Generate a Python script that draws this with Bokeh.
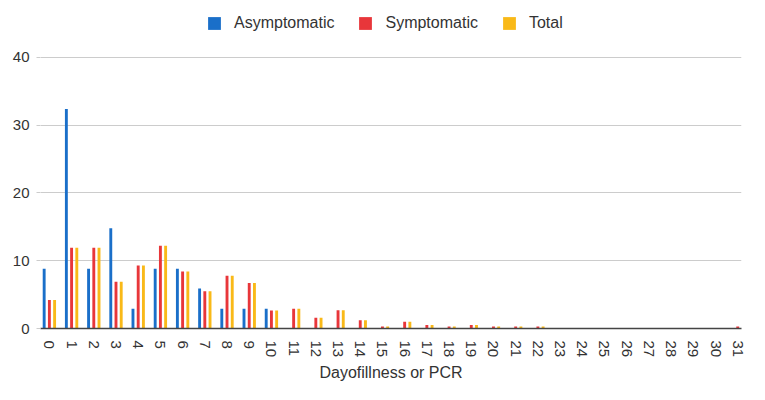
import math
from bokeh.plotting import figure
from bokeh.models import Range1d, FixedTicker, Legend, LegendItem, ColumnDataSource
from bokeh.transform import dodge
from bokeh.embed import file_html
from bokeh.resources import INLINE

days = [0, 1, 2, 3, 4, 5, 6, 7, 8, 9, 10, 11, 12, 13, 14, 15,
        16, 17, 18, 19, 20, 21, 22, 23, 24, 25, 26, 27, 28, 29, 30, 31]
asymptomatic = [8.8, 32.4, 8.8, 14.8, 2.9, 8.8, 8.8, 5.9, 2.9, 2.9, 2.9, 0, 0, 0, 0, 0,
                0, 0, 0, 0, 0, 0, 0, 0, 0, 0, 0, 0, 0, 0, 0, 0]
symptomatic = [4.2, 11.9, 11.9, 6.9, 9.3, 12.2, 8.4, 5.5, 7.8, 6.7, 2.65, 2.9, 1.6, 2.7, 1.2, 0.3,
               1.0, 0.5, 0.3, 0.5, 0.3, 0.3, 0.3, 0, 0, 0, 0, 0, 0, 0, 0, 0.3]
total = [4.2, 11.9, 11.9, 6.9, 9.3, 12.2, 8.4, 5.5, 7.8, 6.7, 2.65, 2.9, 1.6, 2.7, 1.2, 0.3,
         1.0, 0.5, 0.3, 0.5, 0.3, 0.3, 0.3, 0, 0, 0, 0, 0, 0, 0, 0, 0.3]
y_ticks = [0, 10, 20, 30, 40]
x_label = "Dayofillness or PCR"
series_names = ["Asymptomatic", "Symptomatic", "Total"]

FONT = "Liberation Sans"
TXT = "#333333"

source = ColumnDataSource(dict(day=days, asym=asymptomatic, sym=symptomatic, tot=total))

# frame spans nearly the whole height; the headroom above 40 holds the legend
p = figure(width=749, height=384, output_backend="svg", toolbar_location=None,
           x_range=Range1d(-0.4, 31.17), y_range=Range1d(0, 47.8),
           min_border_left=40, min_border_right=8, min_border_top=4, min_border_bottom=56)
p.outline_line_color = None
p.background_fill_color = "white"
p.border_fill_color = "white"

colors = ["#1a6fc9", "#e8363a", "#f9b918"]
offsets = [-0.235, 0.0, 0.235]
cols = ["asym", "sym", "tot"]
renderers = []
for c, off, col in zip(cols, offsets, colors):
    r = p.vbar(x=dodge("day", off, range=p.x_range), top=c, width=0.13, bottom=0,
               source=source, fill_color=col, line_color=None)
    renderers.append(r)

# axes
p.xaxis.ticker = FixedTicker(ticks=days)
p.xaxis.major_label_orientation = "vertical"
p.xaxis.major_tick_line_color = None
p.xaxis.minor_tick_line_color = None
p.xaxis.axis_line_color = "#444444"
p.xaxis.axis_line_width = 1.5
p.xaxis.major_label_text_font = FONT
p.xaxis.major_label_text_font_size = "15px"
p.xaxis.major_label_text_color = TXT
p.xaxis.major_label_standoff = 6
p.xaxis.axis_label = x_label
p.xaxis.axis_label_text_font = FONT
p.xaxis.axis_label_text_font_size = "16px"
p.xaxis.axis_label_text_font_style = "normal"
p.xaxis.axis_label_text_color = TXT
p.xaxis.axis_label_standoff = 4

p.yaxis.ticker = FixedTicker(ticks=y_ticks)
p.yaxis.axis_line_color = None
p.yaxis.major_tick_line_color = "#cccccc"
p.yaxis.major_tick_out = 4
p.yaxis.major_tick_in = 0
p.yaxis.minor_tick_line_color = None
p.yaxis.major_label_text_font = FONT
p.yaxis.major_label_text_font_size = "15px"
p.yaxis.major_label_text_color = TXT
p.yaxis.major_label_standoff = 7

p.xgrid.grid_line_color = None
p.ygrid.grid_line_color = "#cccccc"
p.ygrid.grid_line_width = 1

items = [LegendItem(label=n, renderers=[r]) for n, r in zip(series_names, renderers)]
legend = Legend(items=items, orientation="horizontal", location=(166, 296))
legend.border_line_color = None
legend.background_fill_alpha = 0
legend.padding = 0
legend.margin = 0
legend.spacing = 23
legend.glyph_width = 16
legend.glyph_height = 16
legend.label_height = 16
legend.label_standoff = 12
legend.label_text_font = FONT
legend.label_text_font_size = "16px"
legend.label_text_color = TXT
p.add_layout(legend, "center")

open("out.html", "w").write(file_html(p, INLINE))
